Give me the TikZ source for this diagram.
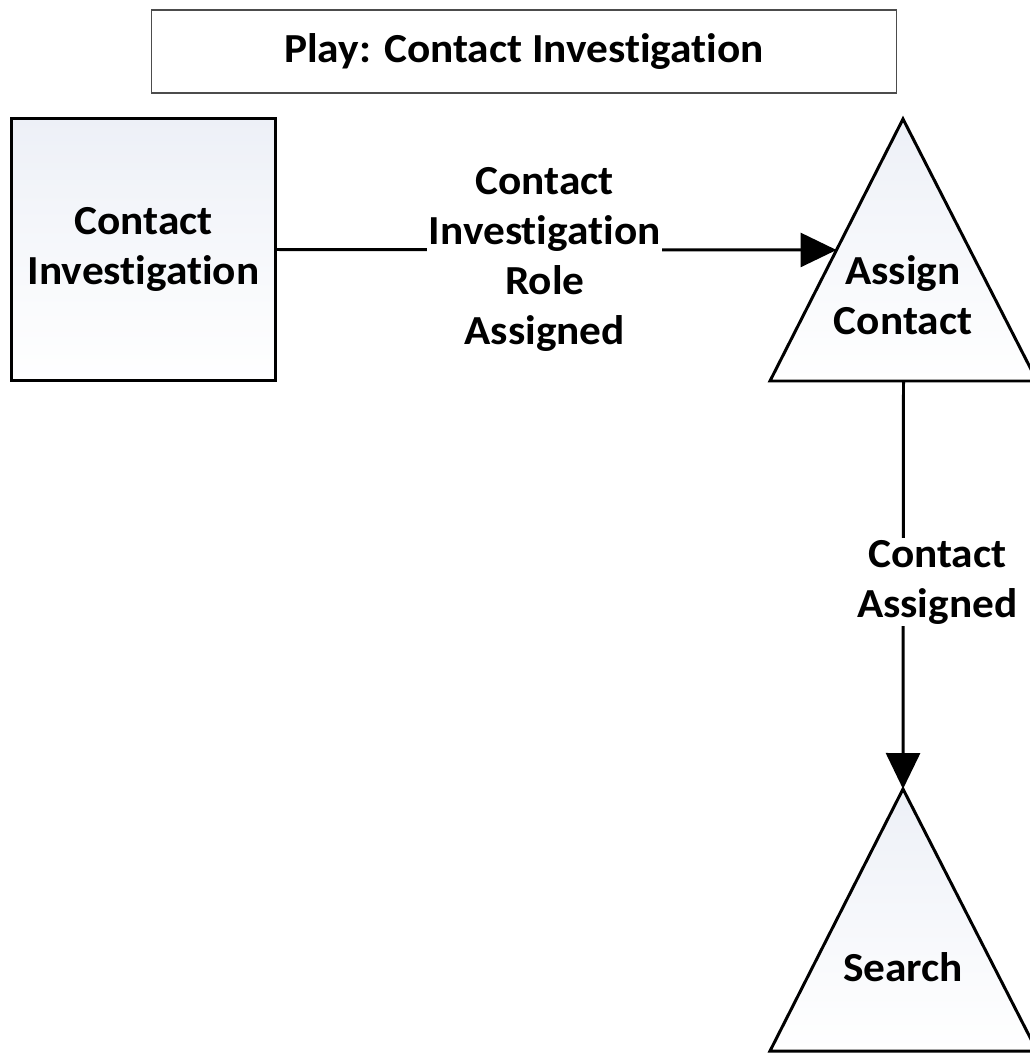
\documentclass[tikz,border=0pt]{standalone}
\usepackage{fontspec}
\setmainfont{Carlito}[Ligatures=NoCommon, FakeStretch=1.05]
\usetikzlibrary{arrows.meta,calc}
\definecolor{shadetop}{RGB}{237,240,247}

\begin{document}
\begin{tikzpicture}[x=0.02cm, y=-0.02cm,
    lbl/.style={font=\bfseries\fontsize{23.5}{28.5}\selectfont, align=center, text=black},
    shape edge/.style={draw=black, line width=1.7pt, top color=shadetop, bottom color=white},
    flow/.style={line width=1.7pt, -{Triangle[length=0.72cm,width=0.68cm]}}]
    % Page frame
    \useasboundingbox (0,0) rectangle (1029,1055);

    % Title
    \node[draw=black!70, line width=1pt, minimum width=14.9cm, minimum height=1.66cm, lbl] (title) at (524,51.5) {Play: Contact Investigation};

    % Contact investigation box
    \node[shape edge, minimum width=5.28cm, minimum height=5.24cm, lbl] (ci) at (143.5,249.5) {Contact\\Investigation};

    % Assign contact triangle
    \path[shape edge] (903,119) coordinate (ac apex) -- (1037,381) coordinate (ac right) -- (770,381) coordinate (ac left) -- cycle;
    \node[lbl] (ac) at (903,295) {Assign\\Contact};
    \coordinate (ac in) at ($(ac apex)!0.5!(ac left)$);
    \coordinate (ac out) at ($(ac left)!0.5!(ac right)$);

    % Search triangle
    \path[shape edge] (903,789) coordinate (sr apex) -- (1037,1051) coordinate (sr right) -- (770,1051) coordinate (sr left) -- cycle;
    \node[lbl] (sr) at (903,967) {Search};

    % Connectors
    \draw[flow] (ci.east) -- (ac in)
        node[lbl, fill=white, inner sep=1pt, midway, xshift=-0.24cm, yshift=-0.2cm] (ci lbl) {Contact\\Investigation\\Role\\Assigned};
    \draw[flow] (ac out) -- (sr apex)
        node[lbl, fill=white, inner sep=1pt, midway, xshift=0.68cm, yshift=0.06cm] (ac lbl) {Contact\\Assigned};
\end{tikzpicture}
\end{document}
